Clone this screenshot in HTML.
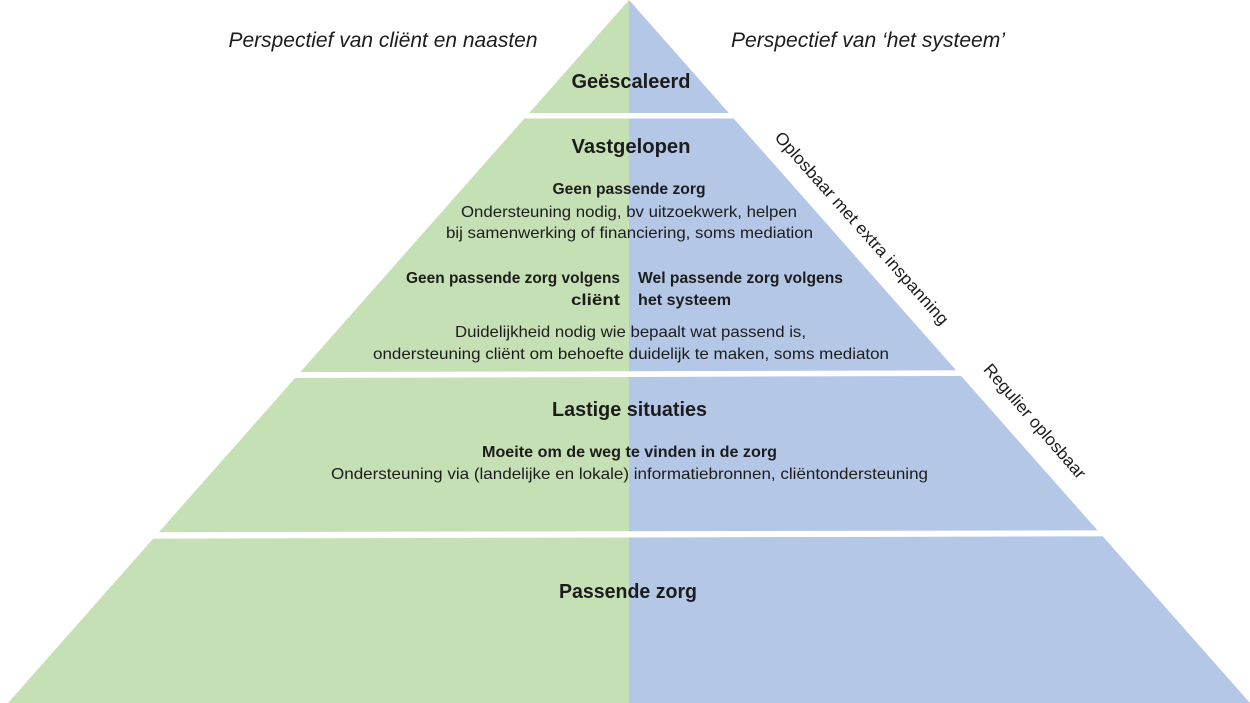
<!DOCTYPE html>
<html>
<head>
<meta charset="utf-8">
<style>
  html, body { margin: 0; padding: 0; background: #fff; }
  svg { display: block; }
  text { font-family: "Liberation Sans", "DejaVu Sans", sans-serif; fill: #1c1c1c; }
  .b { font-weight: bold; }
  .h { font-size: 20px; font-weight: bold; }
  .s { font-size: 16px; }
  .i { font-style: italic; font-size: 21px; }
</style>
</head>
<body>
<svg width="1250" height="703" viewBox="0 0 1250 703" xmlns="http://www.w3.org/2000/svg">
  <defs>
    <clipPath id="tri">
      <polygon points="629,0 1250,703 8,703"/>
    </clipPath>
  </defs>
  <g clip-path="url(#tri)">
    <rect x="0" y="0" width="629" height="703" fill="#c5e0b4"/>
    <rect x="629" y="0" width="621" height="703" fill="#b4c7e7"/>
  </g>
  <!-- white separator bands -->
  <polygon points="0,113 1250,113 1250,118.5 0,118.5" fill="#fff"/>
  <polygon points="0,373 1250,369.5 1250,375 0,379" fill="#fff"/>
  <polygon points="0,532.5 1250,530 1250,536 0,539" fill="#fff"/>

  <!-- top perspectives -->
  <text class="i" x="383" y="47" text-anchor="middle" textLength="309" lengthAdjust="spacingAndGlyphs">Perspectief van cliënt en naasten</text>
  <text class="i" x="868" y="47" text-anchor="middle" textLength="274" lengthAdjust="spacingAndGlyphs">Perspectief van ‘het systeem’</text>

  <!-- Geëscaleerd -->
  <text class="h" x="631" y="88" text-anchor="middle" textLength="119" lengthAdjust="spacingAndGlyphs">Geëscaleerd</text>

  <!-- Vastgelopen -->
  <text class="h" x="631" y="153" text-anchor="middle" textLength="119" lengthAdjust="spacingAndGlyphs">Vastgelopen</text>
  <text class="s b" x="629" y="194" text-anchor="middle" textLength="153" lengthAdjust="spacingAndGlyphs">Geen passende zorg</text>
  <text class="s" x="629" y="217" text-anchor="middle" textLength="336" lengthAdjust="spacingAndGlyphs">Ondersteuning nodig, bv uitzoekwerk, helpen</text>
  <text class="s" x="629.5" y="238" text-anchor="middle" textLength="367" lengthAdjust="spacingAndGlyphs">bij samenwerking of financiering, soms mediation</text>

  <text class="s b" x="620" y="283" text-anchor="end" textLength="214" lengthAdjust="spacingAndGlyphs">Geen passende zorg volgens</text>
  <text class="s b" x="620" y="305" text-anchor="end" textLength="49" lengthAdjust="spacingAndGlyphs">cliënt</text>
  <text class="s b" x="638" y="283" textLength="205" lengthAdjust="spacingAndGlyphs">Wel passende zorg volgens</text>
  <text class="s b" x="638" y="305" textLength="93" lengthAdjust="spacingAndGlyphs">het systeem</text>

  <text class="s" x="630.5" y="337" text-anchor="middle" textLength="351" lengthAdjust="spacingAndGlyphs">Duidelijkheid nodig wie bepaalt wat passend is,</text>
  <text class="s" x="631" y="359" text-anchor="middle" textLength="516" lengthAdjust="spacingAndGlyphs">ondersteuning cliënt om behoefte duidelijk te maken, soms mediaton</text>

  <!-- Lastige situaties -->
  <text class="h" x="629.5" y="416" text-anchor="middle" textLength="155" lengthAdjust="spacingAndGlyphs">Lastige situaties</text>
  <text class="s b" x="629.5" y="457" text-anchor="middle" textLength="295" lengthAdjust="spacingAndGlyphs">Moeite om de weg te vinden in de zorg</text>
  <text class="s" x="629.5" y="479" text-anchor="middle" textLength="597" lengthAdjust="spacingAndGlyphs">Ondersteuning via (landelijke en lokale) informatiebronnen, cliëntondersteuning</text>

  <!-- Passende zorg -->
  <text class="h" x="628" y="598" text-anchor="middle" textLength="138" lengthAdjust="spacingAndGlyphs">Passende zorg</text>

  <!-- rotated side labels -->
  <g transform="translate(862,228) rotate(48.3)">
    <text x="0" y="6" text-anchor="middle" style="font-size:17px" textLength="252" lengthAdjust="spacingAndGlyphs">Oplosbaar met extra inspanning</text>
  </g>
  <g transform="translate(1035,421) rotate(49)">
    <text x="0" y="6" text-anchor="middle" style="font-size:17px" textLength="146" lengthAdjust="spacingAndGlyphs">Regulier oplosbaar</text>
  </g>
</svg>
</body>
</html>
